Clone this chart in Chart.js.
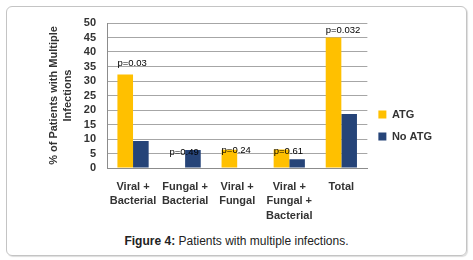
<!DOCTYPE html>
<html>
<head>
<meta charset="utf-8">
<script src="https://cdn.jsdelivr.net/npm/chart.js@4"></script>
<style>
  body { margin: 0; background: #fff; font-family: "Liberation Sans", Arial, sans-serif; }
  #frame { position: absolute; left: 6px; top: 6px; width: 459px; height: 248px; border: 1px solid #c4c4c4; border-radius: 6px; box-shadow: 1px 1px 1px #ddd; }
  #wrap { position: absolute; left: 0; top: 0; width: 473px; height: 228px; }
  #caption { position: absolute; left: 0; top: 234px; width: 473px; text-align: center; font-size: 12px; color: #222; }
</style>
</head>
<body>
<div id="frame"></div>
<div id="wrap"><canvas id="infChart"></canvas></div>
<div id="caption"><b>Figure 4:</b> Patients with multiple infections.</div>
<script>
const categories = [["Viral +", "Bacterial"], ["Fungal +", "Bacterial"], ["Viral +", "Fungal"], ["Viral +", "Fungal +", "Bacterial"], ["Total"]];
const atg = [32.2, 0, 6.3, 6.4, 45];
const noAtg = [9.3, 6.2, 0, 3, 18.6];
const pValues = ["p=0.03", "p=0.49", "p=0.24", "p=0.61", "p=0.032"];
const pLabelAt = [36, 5.3, 6.2, 5.6, 47.3]; // value level where each p label sits

// p-value text next to the ATG bars
const pLabels = {
    id: 'pLabels',
    afterDatasetsDraw(chart) {
        const ctx = chart.ctx;
        const meta = chart.getDatasetMeta(0);
        const y = chart.scales.y;
        ctx.save();
        ctx.font = '9.5px "Liberation Sans", Arial, sans-serif';
        ctx.fillStyle = '#000';
        ctx.textBaseline = 'middle';
        ctx.textAlign = 'left';
        pValues.forEach((t, i) => {
            const bar = meta.data[i];
            ctx.fillText(t, bar.x - bar.width / 2, y.getPixelForValue(pLabelAt[i]));
        });
        ctx.restore();
    }
};

new Chart(document.getElementById("infChart"), {
    type: 'bar',
    data: {
        labels: categories,
        datasets: [{
            label: 'ATG',
            data: atg,
            backgroundColor: "#FFC000"
        }, {
            label: 'No ATG',
            data: noAtg,
            backgroundColor: "#264478"
        }]
    },
    options: {
        responsive: true,
        maintainAspectRatio: false,
        animation: false,
        categoryPercentage: 0.6,
        barPercentage: 1.0,
        layout: {
            padding: { top: 23, left: 0, right: 31, bottom: 0 }
        },
        plugins: {
            legend: {
                display: true,
                position: 'right',
                labels: {
                    boxWidth: 8,
                    boxHeight: 8,
                    padding: 11,
                    color: '#333',
                    font: { size: 11, weight: 'bold', family: '"Liberation Sans", Arial, sans-serif' }
                }
            },
            tooltip: { enabled: false }
        },
        scales: {
            x: {
                grid: { display: false, drawTicks: false },
                border: { color: '#8c8c8c' },
                ticks: {
                    color: '#333',
                    padding: 12,
                    maxRotation: 0,
                    autoSkip: false,
                    font: { size: 11, weight: 'bold', lineHeight: 1.3, family: '"Liberation Sans", Arial, sans-serif' }
                },
                afterFit: s => { s.height = 60; }
            },
            y: {
                min: 0,
                max: 50,
                ticks: {
                    stepSize: 5,
                    autoSkip: false,
                    color: '#333',
                    padding: 11,
                    font: { size: 11, weight: 'bold', family: '"Liberation Sans", Arial, sans-serif' }
                },
                grid: { color: '#a6a6a6', drawTicks: false },
                border: { color: '#8c8c8c' },
                title: {
                    display: true,
                    text: ['% of Patients with Multiple', 'Infections'],
                    color: '#333',
                    padding: { top: 46, bottom: 0 },
                    font: { size: 11, weight: 'bold', lineHeight: 1.36, family: '"Liberation Sans", Arial, sans-serif' }
                },
                afterFit: s => { s.width = 107; }
            }
        }
    },
    plugins: [pLabels]
});
</script>
</body>
</html>
